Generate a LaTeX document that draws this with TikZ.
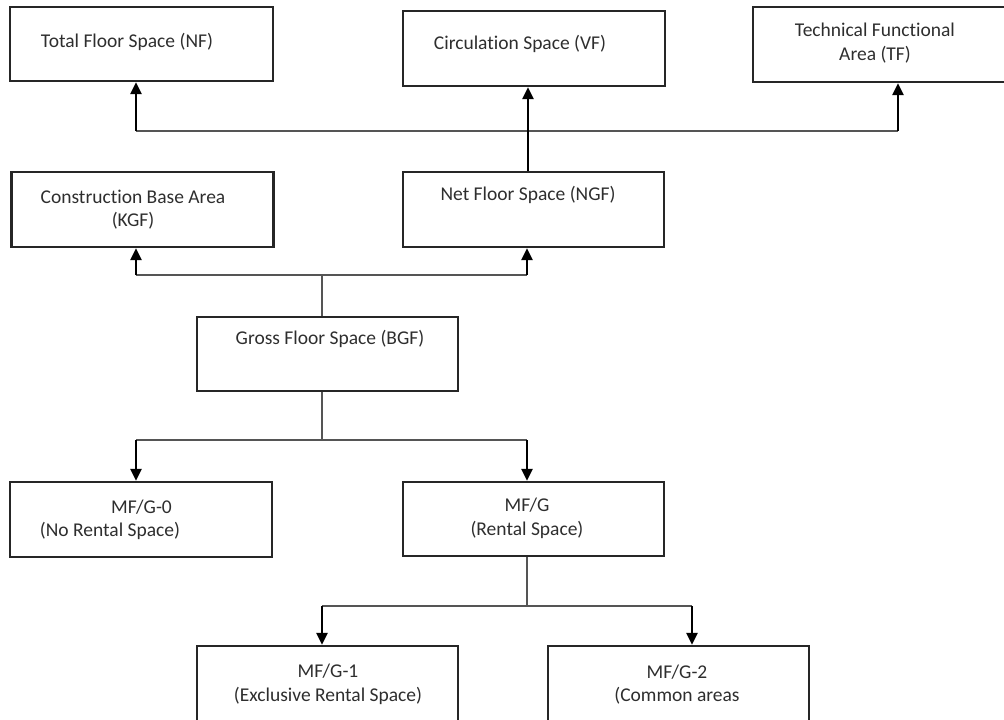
\documentclass[tikz,border=0pt]{standalone}
\usepackage{fontspec}
\setmainfont{Carlito}[RawFeature={-liga;-clig;-calt;-dlig}]
\usetikzlibrary{arrows.meta}
\definecolor{txt}{HTML}{2E2E2E}
\definecolor{thinline}{HTML}{555555}
\tikzset{
  box/.style={draw=black!85, line width=2.3pt, minimum width=#1, inner sep=0pt},
  lbl/.style={text=txt, font=\fontsize{19.5}{23.5}\selectfont, align=center, inner sep=0pt},
  thin/.style={draw=thinline, line width=1.2pt},
  arr/.style={draw=black, line width=2.3pt, -{Triangle[length=12pt,width=11pt]}},
}
\begin{document}
\begin{tikzpicture}[x=1pt,y=-1pt]
\useasboundingbox (0,0) rectangle (1004,720);
% boxes
\node[box=263pt, minimum height=74pt] (NF)  at (141.5,44) {};
\node[box=262pt, minimum height=75pt] (VF)  at (534,48.5) {};
\node[box=262pt, minimum height=75pt] (TF)  at (884,44.5) {};
\node[box=262pt, minimum height=75pt] (KGF) at (142.5,209.5) {};
\node[box=261pt, minimum height=75pt] (NGF) at (533.5,209.5) {};
\node[box=261pt, minimum height=74pt] (BGF) at (327.5,354) {};
\node[box=262pt, minimum height=75pt] (MG0) at (141,519.5) {};
\node[box=261pt, minimum height=74pt] (MG)  at (533.5,519) {};
\node[box=261pt, minimum height=75pt] (MG1) at (327.5,683.5) {};
\node[box=261pt, minimum height=75pt] (MG2) at (678.5,683.5) {};
% labels
\node[lbl] (tNF)  at (127,42) {Total Floor Space (NF)};
\node[lbl] (tVF)  at (520,44) {Circulation Space (VF)};
\node[lbl] (tTF)  at (875,43) {Technical Functional\\Area (TF)};
\node[lbl] (tKGF) at (133,209.5) {Construction Base Area\\(KGF)};
\node[lbl] (tNGF) at (528,195) {Net Floor Space (NGF)};
\node[lbl] (tBGF) at (330,339) {Gross Floor Space (BGF)};
\node[lbl] (tMG0a) at (141.5,507) {MF/G-0};
\node[lbl] (tMG0b) at (110,531) {(No Rental Space)};
\node[lbl] (tMG)  at (527,518.5) {MF/G\\(Rental Space)};
\node[lbl] (tMG1) at (328,684.5) {MF/G-1\\(Exclusive Rental Space)};
\node[lbl] (tMG2) at (677,684.5) {MF/G-2\\(Common areas};
% bus coordinates
\coordinate (b1L) at (136,131);
\coordinate (b1R) at (898,131);
\coordinate (b2C) at (322,275);
\coordinate (b2L) at (136,275);
\coordinate (b2R) at (527,275);
\coordinate (b3C) at (322,440);
\coordinate (b3L) at (136,440);
\coordinate (b3R) at (527,440);
\coordinate (b4C) at (527,606);
\coordinate (b4L) at (322,606);
\coordinate (b4R) at (692,606);
% top bus
\draw[thin] (b1L) -- (b1R);
\draw[arr] (b1L) -- (b1L |- NF.south);
\draw[arr] (b1R) -- (b1R |- TF.south);
\draw[arr] (NGF.north -| 528,0) -- (VF.south -| 528,0);
% middle bus
\draw[thin] (BGF.north -| b2C) -- (b2C);
\draw[thin] (b2L) -- (b2R);
\draw[arr] (b2L) -- (b2L |- KGF.south);
\draw[arr] (b2R) -- (b2R |- NGF.south);
% lower bus
\draw[thin] (BGF.south -| b3C) -- (b3C);
\draw[thin] (b3L) -- (b3R);
\draw[arr] (b3L) -- (b3L |- MG0.north);
\draw[arr] (b3R) -- (b3R |- MG.north);
% bottom bus
\draw[thin] (MG.south -| b4C) -- (b4C);
\draw[thin] (b4L) -- (b4R);
\draw[arr] (b4L) -- (b4L |- MG1.north);
\draw[arr] (b4R) -- (b4R |- MG2.north);
\end{tikzpicture}
\end{document}
